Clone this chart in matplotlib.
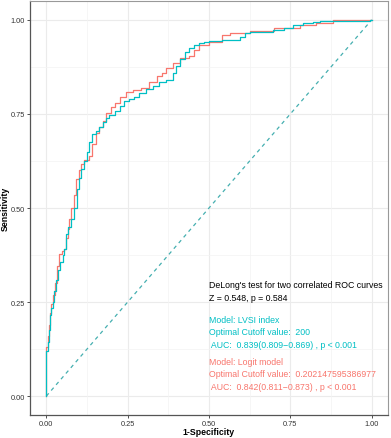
import matplotlib
matplotlib.use("Agg")
import matplotlib.pyplot as plt
import numpy as np

plt.rcParams['font.family'] = ['Liberation Sans', 'DejaVu Sans']

# LVSI index ROC vertices (1-specificity, sensitivity)
lvsi_fpr = [0.000, 0.000, 0.004, 0.007, 0.010, 0.014, 0.020, 0.025, 0.030, 0.035, 0.042, 0.050,
            0.056, 0.060, 0.066, 0.075, 0.086, 0.094, 0.100, 0.108, 0.117, 0.125, 0.132, 0.142,
            0.153, 0.163, 0.173, 0.184, 0.194, 0.210, 0.225, 0.240, 0.255, 0.270, 0.286, 0.305,
            0.327, 0.345, 0.369, 0.388, 0.398, 0.410, 0.425, 0.440, 0.455, 0.470, 0.485, 0.500,
            0.540, 0.594, 0.610, 0.625, 0.696, 0.730, 0.757, 0.790, 0.819, 0.840, 0.860, 0.994, 1.000]
lvsi_tpr = [0.000, 0.095, 0.120, 0.145, 0.175, 0.215, 0.235, 0.250, 0.280, 0.310, 0.335, 0.357,
            0.375, 0.390, 0.430, 0.450, 0.470, 0.500, 0.550, 0.580, 0.603, 0.625, 0.648, 0.675,
            0.696, 0.705, 0.714, 0.728, 0.740, 0.748, 0.757, 0.772, 0.783, 0.790, 0.796, 0.805,
            0.815, 0.825, 0.836, 0.841, 0.860, 0.876, 0.895, 0.915, 0.925, 0.934, 0.938, 0.942,
            0.944, 0.947, 0.955, 0.966, 0.968, 0.972, 0.979, 0.986, 0.992, 0.995, 0.997, 0.997, 1.000]

# Logit model ROC vertices
logit_fpr = [0.000, 0.000, 0.004, 0.008, 0.012, 0.016, 0.020, 0.026, 0.032, 0.040, 0.048, 0.055,
             0.062, 0.066, 0.071, 0.076, 0.085, 0.092, 0.100, 0.108, 0.117, 0.130, 0.142, 0.152,
             0.163, 0.173, 0.184, 0.200, 0.212, 0.225, 0.245, 0.265, 0.290, 0.317, 0.340, 0.355,
             0.369, 0.390, 0.410, 0.440, 0.455, 0.470, 0.500, 0.540, 0.563, 0.625, 0.700, 0.780,
             0.830, 0.880, 1.000]
logit_tpr = [0.000, 0.100, 0.130, 0.160, 0.190, 0.220, 0.245, 0.270, 0.300, 0.345, 0.378, 0.385,
             0.390, 0.420, 0.444, 0.470, 0.500, 0.535, 0.577, 0.600, 0.616, 0.628, 0.638, 0.670,
             0.700, 0.715, 0.730, 0.752, 0.768, 0.780, 0.795, 0.807, 0.814, 0.820, 0.835, 0.850,
             0.860, 0.872, 0.886, 0.899, 0.905, 0.920, 0.934, 0.942, 0.960, 0.966, 0.970, 0.979,
             0.985, 0.992, 1.000]

diag = [0.0, 1.0]

xticks = [0.00, 0.25, 0.50, 0.75, 1.00]
yticks = [0.00, 0.25, 0.50, 0.75, 1.00]
tick_labels = ["0.00", "0.25", "0.50", "0.75", "1.00"]

TEAL = "#00BFC4"
RED = "#F8766D"

fig = plt.figure(figsize=(3.91, 4.39), dpi=100)
ax = fig.add_axes([30/391, 1 - 416/439, (388-30)/391, (416-2)/439])

ax.set_xlim(-0.05, 1.05)
ax.set_ylim(-0.05, 1.05)

# grid
for v in [0, 0.25, 0.5, 0.75, 1.0]:
    ax.axvline(v, color="#EBEBEB", lw=0.8, zorder=0)
    ax.axhline(v, color="#EBEBEB", lw=0.8, zorder=0)
for v in [0.125, 0.375, 0.625, 0.875]:
    ax.axvline(v, color="#F3F3F3", lw=0.5, zorder=0)
    ax.axhline(v, color="#F3F3F3", lw=0.5, zorder=0)

ax.plot(diag, diag, color="#45AFB0", lw=0.9, ls=(0, (3, 3)), zorder=1)
ax.plot(logit_fpr, logit_tpr, color=RED, lw=0.9, drawstyle="steps-pre", zorder=2)
ax.plot(lvsi_fpr, lvsi_tpr, color=TEAL, lw=0.9, drawstyle="steps-pre", zorder=3)

ax.set_xticks(xticks)
ax.set_xticklabels(tick_labels)
ax.set_yticks(yticks)
ax.set_yticklabels(tick_labels)
ax.tick_params(labelsize=5.3, length=2, width=0.6, color="#333333", pad=1.5, labelcolor="#333333")

for side in ["top", "right"]:
    ax.spines[side].set_color("#999999")
    ax.spines[side].set_linewidth(0.8)
for side in ["left", "bottom"]:
    ax.spines[side].set_color("#555555")
    ax.spines[side].set_linewidth(0.9)

ax.set_xlabel("1-Specificity", fontsize=6.3, fontweight="bold")
ax.set_ylabel("Sensitivity", fontsize=6.3, fontweight="bold")
ax.yaxis.set_label_coords(-0.056, 0.5)
ax.xaxis.set_label_coords(0.5, -0.028)

fs = 6.3
tx = 0.50
ax.text(tx, 0.296, "DeLong's test for two correlated ROC curves", fontsize=fs, color="black", va="center")
ax.text(tx, 0.262, "Z = 0.548, p = 0.584", fontsize=fs, color="black", va="center")
ax.text(tx, 0.204, "Model: LVSI index", fontsize=fs, color=TEAL, va="center")
ax.text(tx, 0.172, "Optimal Cutoff value:  200", fontsize=fs, color=TEAL, va="center")
ax.text(tx, 0.138, " AUC:  0.839(0.809\u22120.869) , p < 0.001", fontsize=fs, color=TEAL, va="center")
ax.text(tx, 0.093, "Model: Logit model", fontsize=fs, color=RED, va="center")
ax.text(tx, 0.061, "Optimal Cutoff value:  0.202147595386977", fontsize=fs, color=RED, va="center")
ax.text(tx, 0.026, " AUC:  0.842(0.811\u22120.873) , p < 0.001", fontsize=fs, color=RED, va="center")

fig.savefig("out.png", dpi=100)
